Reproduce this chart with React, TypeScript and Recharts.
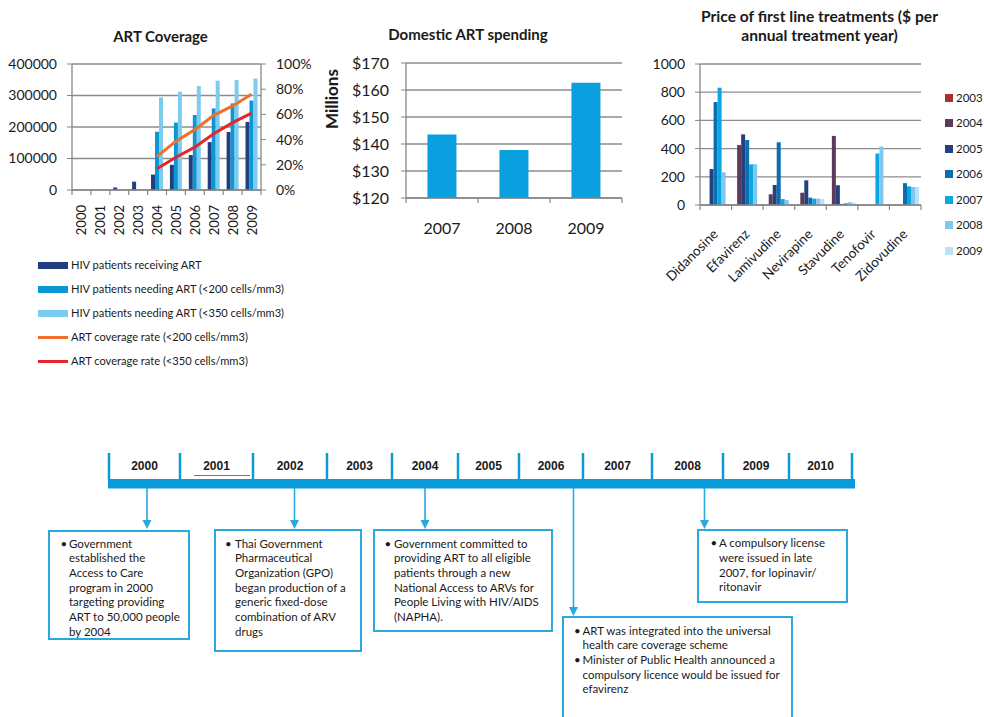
import React from "react";
import { ComposedChart, BarChart, Bar, Line, XAxis, YAxis, CartesianGrid } from "recharts";

// ---------- DATA ----------
const years = ["2000", "2001", "2002", "2003", "2004", "2005", "2006", "2007", "2008", "2009"];
const receivingArt = [0, 0, 8000, 26500, 49000, 80000, 111000, 152000, 184000, 216000];
const needingArt200 = [null, null, null, null, 185000, 214000, 238000, 259000, 275000, 284000];
const needingArt350 = [null, null, null, null, 294000, 312000, 330000, 347000, 349000, 354000];
const coverage200 = [null, null, null, null, 0.266, 0.388, 0.479, 0.593, 0.667, 0.76];
const coverage350 = [null, null, null, null, 0.168, 0.26, 0.34, 0.447, 0.535, 0.61];
const artLeftTicks = [0, 100000, 200000, 300000, 400000];
const artRightTicks = [0, 0.2, 0.4, 0.6, 0.8, 1];
const artLegendLabels = [
  "HIV patients receiving ART",
  "HIV patients needing ART (<200 cells/mm3)",
  "HIV patients needing ART (<350 cells/mm3)",
  "ART coverage rate (<200 cells/mm3)",
  "ART coverage rate (<350 cells/mm3)",
];

const spendingYears = ["2007", "2008", "2009"];
const spendingMillions = [143.5, 137.8, 162.7];
const spendingTicks = [120, 130, 140, 150, 160, 170];

const drugs = ["Didanosine", "Efavirenz", "Lamivudine", "Nevirapine", "Stavudine", "Tenofovir", "Zidovudine"];
const priceYears = ["2003", "2004", "2005", "2006", "2007", "2008", "2009"];
const price2003 = [0, 0, 0, 0, 0, 0, 0];
const price2004 = [0, 425, 76, 87, 490, 0, 0];
const price2005 = [255, 501, 142, 175, 140, 0, 0];
const price2006 = [730, 461, 445, 52, 8, 0, 155];
const price2007 = [832, 288, 42, 45, 12, 365, 132];
const price2008 = [232, 290, 35, 45, 20, 415, 128];
const price2009 = [0, 0, 0, 42, 16, 0, 128];
const priceTicks = [0, 200, 400, 600, 800, 1000];

const timelineYears = ["2000", "2001", "2002", "2003", "2004", "2005", "2006", "2007", "2008", "2009", "2010"];

// ---------- STYLE ----------
const FONT = "Lato, 'Open Sans', sans-serif";
const AXIS = "#878787";
const GRID = "#8c8c8c";
const TXT = "#1a1a1a";
const artColors = ["#213F7E", "#0B96D6", "#7ECBF0", "#F0702B", "#E3262B"];
const spendColor = "#0AA0DF";
const priceColors = ["#A8322D", "#5C3A5A", "#22427F", "#0A6FB0", "#0AA5E2", "#7CC8EE", "#B8E2F6"];
const TL_BLUE = "#0B9ADA";
const BOX_BLUE = "#2AA8E0";

const artData = years.map((y, i) => ({
  year: y,
  receiving: receivingArt[i],
  need200: needingArt200[i],
  need350: needingArt350[i],
  cov200: coverage200[i],
  cov350: coverage350[i],
}));
const spendData = spendingYears.map((y, i) => ({ year: y, value: spendingMillions[i] }));
const priceSeries = [price2003, price2004, price2005, price2006, price2007, price2008, price2009];
const priceData = drugs.map((d, i) => {
  const row: any = { drug: d };
  priceYears.forEach((py, k) => (row["y" + py] = priceSeries[k][i]));
  return row;
});

// layout constants
const ART_PLOT_W = 189;
const SPEND_PLOT_W = 216;
const PRICE_PLOT_W = 221;

const makeBoundaryTick = (plotW: number, n: number, render: (x: number, y: number, v: string) => React.ReactNode) =>
  (props: any) => {
    const { x, y, payload } = props;
    const index = props.index ?? payload?.index ?? 0;
    const band = plotW / n;
    return (
      <g>
        <line x1={x - band / 2} x2={x - band / 2} y1={y} y2={y + 5} stroke={AXIS} strokeWidth={1.2} />
        {index === n - 1 && <line x1={x + band / 2} x2={x + band / 2} y1={y} y2={y + 5} stroke={AXIS} strokeWidth={1.2} />}
        {render(x, y, payload.value)}
      </g>
    );
  };

const ArtXTick = makeBoundaryTick(ART_PLOT_W, years.length, (x, y, v) => {
  const px = x + 5, py = y + 15;
  return (
    <text x={px} y={py} transform={`rotate(-90 ${px} ${py})`} textAnchor="end" fontSize={13} fill={TXT} fontFamily={FONT}>
      {v}
    </text>
  );
});
const SpendXTick = makeBoundaryTick(SPEND_PLOT_W, spendingYears.length, (x, y, v) => (
  <text x={x} y={y + 36} textAnchor="middle" fontSize={16} fill={TXT} fontFamily={FONT}>
    {v}
  </text>
));
const PriceXTick = makeBoundaryTick(PRICE_PLOT_W, drugs.length, (x, y, v) => {
  const px = x + 3, py = y + 30;
  return (
    <text x={px} y={py} transform={`rotate(-45 ${px} ${py})`} textAnchor="end" fontSize={13.5} fill={TXT} fontFamily={FONT}>
      {v}
    </text>
  );
});

const tickStyle = (size: number) => ({ fontSize: size, fill: TXT, fontFamily: FONT });

const Title = ({ x, y, w, lines, size = 15 }: { x: number; y: number; w: number; lines: string[]; size?: number }) => (
  <div
    style={{
      position: "absolute",
      left: x - w / 2,
      top: y - 10,
      width: w,
      textAlign: "center",
      fontWeight: 700,
      fontSize: size,
      lineHeight: "19px",
      color: TXT,
      fontFamily: FONT,
      whiteSpace: "nowrap",
    }}
  >
    {lines.map((l) => (
      <div key={l}>{l}</div>
    ))}
  </div>
);

// timeline boxes
const boxes = [
  { x: 48, y: 530, w: 142, h: 110, bx: 60.5, tx: 69, ty: 544, items: [["Government", "established the", "Access to Care", "program in 2000", "targeting providing", "ART to 50,000 people", "by 2004"]] },
  { x: 214, y: 529, w: 148, h: 123, bx: 225, tx: 235, ty: 544, items: [["Thai Government", "Pharmaceutical", "Organization (GPO)", "began production of a", "generic fixed-dose", "combination of ARV", "drugs"]] },
  { x: 373, y: 529, w: 180, h: 103, bx: 384.5, tx: 394, ty: 544, items: [["Government committed to", "providing ART to all eligible", "patients through a new", "National Access to ARVs for", "People Living with HIV/AIDS", "(NAPHA)."]] },
  { x: 697, y: 529, w: 151, h: 74, bx: 710.5, tx: 719, ty: 543.5, items: [["A compulsory license", "were issued in late", "2007, for lopinavir/", "ritonavir"]] },
  { x: 562, y: 616, w: 231, h: 120, bx: 574, tx: 582.5, ty: 631, items: [["ART was integrated into the universal", "health care coverage scheme"], ["Minister of Public Health announced a", "compulsory licence would be issued for", "efavirenz"]] },
];
const LH = 14.7;

const separators = [109, 180, 253, 327, 392, 458, 519, 583, 652, 723, 789, 852];
const arrows = [
  { x: 147, y2: 529 },
  { x: 294.5, y2: 529 },
  { x: 425, y2: 529 },
  { x: 573.5, y2: 616 },
  { x: 704.5, y2: 529 },
];

export default function App() {
  return (
    <div style={{ position: "relative", width: 984, height: 717, overflow: "hidden", background: "#fff", fontFamily: FONT }}>
      <style>{`body{margin:0}`}</style>

      {/* ---------- Chart 1: ART Coverage ---------- */}
      <Title x={160.5} y={36.5} w={200} lines={["ART Coverage"]} />
      <div style={{ position: "absolute", left: 0, top: 0 }}>
        <ComposedChart width={340} height={270} data={artData} margin={{ top: 64, right: 0, bottom: 0, left: 0 }} barCategoryGap="18%" barGap={0}>
          <CartesianGrid yAxisId="left" vertical={false} stroke={GRID} strokeWidth={1.3} />
          <XAxis dataKey="year" interval={0} height={80} tickSize={0} tickMargin={0} tickLine={false} axisLine={{ stroke: AXIS, strokeWidth: 1.3 }} tick={ArtXTick} />
          <YAxis yAxisId="left" width={72} domain={[0, 400000]} ticks={artLeftTicks} interval={0} tickSize={5} tickMargin={10} axisLine={{ stroke: AXIS, strokeWidth: 1.3 }} tickLine={{ stroke: AXIS }} tick={tickStyle(14)} />
          <YAxis yAxisId="right" orientation="right" width={79} domain={[0, 1]} ticks={artRightTicks} interval={0} tickSize={5} tickMargin={10} axisLine={{ stroke: AXIS, strokeWidth: 1.3 }} tickLine={{ stroke: AXIS }} tick={tickStyle(14)} tickFormatter={(v: number) => `${Math.round(v * 100)}%`} />
          <Bar yAxisId="left" dataKey="receiving" fill={artColors[0]} isAnimationActive={false} />
          <Bar yAxisId="left" dataKey="need200" fill={artColors[1]} isAnimationActive={false} />
          <Bar yAxisId="left" dataKey="need350" fill={artColors[2]} isAnimationActive={false} />
          <Line yAxisId="right" type="linear" dataKey="cov200" stroke={artColors[3]} strokeWidth={3} dot={false} isAnimationActive={false} />
          <Line yAxisId="right" type="linear" dataKey="cov350" stroke={artColors[4]} strokeWidth={3} dot={false} isAnimationActive={false} />
        </ComposedChart>
      </div>
      {artLegendLabels.map((label, i) => {
        const cy = 265 + i * 24;
        const isLine = i >= 3;
        return (
          <div key={label}>
            <div style={{ position: "absolute", left: 38, top: isLine ? cy - 1.5 : cy - 3.5, width: 30, height: isLine ? 3 : 7, background: artColors[i] }} />
            <div style={{ position: "absolute", left: 71, top: cy - 8, lineHeight: "16px", fontSize: 11.1, color: TXT, whiteSpace: "nowrap" }}>{label}</div>
          </div>
        );
      })}

      {/* ---------- Chart 2: Domestic ART spending ---------- */}
      <Title x={468} y={35} w={240} lines={["Domestic ART spending"]} />
      <div
        style={{
          position: "absolute",
          left: 331.5 - 40,
          top: 99 - 10,
          width: 80,
          lineHeight: "20px",
          textAlign: "center",
          fontWeight: 700,
          fontSize: 17,
          color: TXT,
          transform: "rotate(-90deg)",
        }}
      >
        Millions
      </div>
      <div style={{ position: "absolute", left: 300, top: 0 }}>
        <BarChart width={330} height={250} data={spendData} margin={{ top: 63, right: 8, bottom: 0, left: 0 }} barCategoryGap="29.8%">
          <CartesianGrid vertical={false} stroke={GRID} strokeWidth={1.3} />
          <XAxis dataKey="year" interval={0} height={52} tickSize={0} tickMargin={0} tickLine={false} axisLine={{ stroke: AXIS, strokeWidth: 1.3 }} tick={SpendXTick} />
          <YAxis width={106} domain={[120, 170]} ticks={spendingTicks} interval={0} tickSize={5} tickMargin={12} axisLine={{ stroke: AXIS, strokeWidth: 1.3 }} tickLine={{ stroke: AXIS }} tick={tickStyle(16)} tickFormatter={(v: number) => `$${v}`} />
          <Bar dataKey="value" fill={spendColor} isAnimationActive={false} />
        </BarChart>
      </div>

      {/* ---------- Chart 3: Price of first line treatments ---------- */}
      <Title x={819.5} y={16.5} w={300} size={15.6} lines={["Price of first line treatments ($ per", "annual treatment year)"]} />
      <div style={{ position: "absolute", left: 630, top: 0 }}>
        <BarChart width={354} height={290} data={priceData} margin={{ top: 64, right: 63, bottom: 0, left: 0 }} barCategoryGap="5%" barGap={0}>
          <CartesianGrid vertical={false} stroke={GRID} strokeWidth={1.3} />
          <XAxis dataKey="drug" interval={0} height={85} tickSize={0} tickMargin={0} tickLine={false} axisLine={{ stroke: AXIS, strokeWidth: 1.3 }} tick={PriceXTick} />
          <YAxis width={70} domain={[0, 1000]} ticks={priceTicks} interval={0} tickSize={5} tickMargin={10} axisLine={{ stroke: AXIS, strokeWidth: 1.3 }} tickLine={{ stroke: AXIS }} tick={tickStyle(14)} />
          {priceYears.map((py, k) => (
            <Bar key={py} dataKey={"y" + py} fill={priceColors[k]} isAnimationActive={false} />
          ))}
        </BarChart>
      </div>
      {priceYears.map((py, k) => {
        const cy = 97.7 + k * 25.5;
        return (
          <div key={py}>
            <div style={{ position: "absolute", left: 945, top: cy - 4, width: 8, height: 8, background: priceColors[k] }} />
            <div style={{ position: "absolute", left: 956, top: cy - 8, lineHeight: "16px", fontSize: 11.5, color: TXT, whiteSpace: "nowrap" }}>{py}</div>
          </div>
        );
      })}

      {/* ---------- Timeline ---------- */}
      <svg width={984} height={717} style={{ position: "absolute", left: 0, top: 0 }}>
        {separators.map((x) => (
          <line key={x} x1={x} x2={x} y1={453} y2={480} stroke={TL_BLUE} strokeWidth={2.5} />
        ))}
        <line x1={194} x2={250} y1={475.5} y2={475.5} stroke={TL_BLUE} strokeWidth={1.2} />
        <rect x={108} y={479} width={747} height={9.5} fill={TL_BLUE} />
        {arrows.map((a) => (
          <g key={a.x}>
            <line x1={a.x} x2={a.x} y1={488} y2={a.y2 - 8} stroke={BOX_BLUE} strokeWidth={1.6} />
            <polygon points={`${a.x - 4.5},${a.y2 - 9} ${a.x + 4.5},${a.y2 - 9} ${a.x},${a.y2}`} fill={BOX_BLUE} />
          </g>
        ))}
      </svg>
      {timelineYears.map((ty, i) => (
        <div
          key={ty}
          style={{
            position: "absolute",
            left: separators[i],
            width: separators[i + 1] - separators[i],
            top: 458,
            lineHeight: "16px",
            textAlign: "center",
            fontFamily: "'Liberation Sans', Arial, sans-serif",
            fontWeight: 700,
            fontSize: 12,
            color: TXT,
          }}
        >
          {ty}
        </div>
      ))}
      {boxes.map((b, bi) => {
        let line = 0;
        return (
          <div key={bi}>
            <div style={{ position: "absolute", left: b.x, top: b.y, width: b.w, height: b.h, border: `2px solid ${BOX_BLUE}`, boxSizing: "border-box", background: "#fff" }} />
            {b.items.map((item, ii) => {
              const start = line;
              line += item.length;
              return (
                <div key={ii}>
                  <div style={{ position: "absolute", left: b.bx, top: b.ty + start * LH - LH / 2, lineHeight: `${LH}px`, fontSize: 11.5, color: TXT }}>•</div>
                  {item.map((t, li) => (
                    <div key={li} style={{ position: "absolute", left: b.tx, top: b.ty + (start + li) * LH - LH / 2, lineHeight: `${LH}px`, fontSize: 11.5, color: TXT, whiteSpace: "nowrap" }}>
                      {t}
                    </div>
                  ))}
                </div>
              );
            })}
          </div>
        );
      })}
    </div>
  );
}
